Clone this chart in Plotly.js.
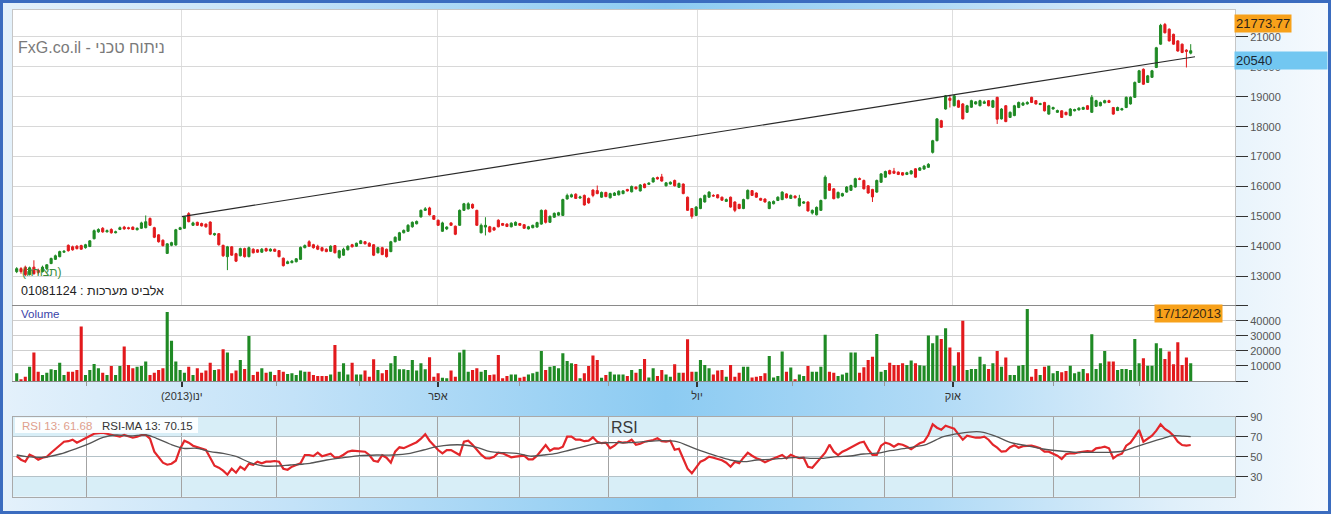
<!DOCTYPE html>
<html><head><meta charset="utf-8">
<script src="https://cdn.plot.ly/plotly-3.0.1.min.js"></script>
<style>
html,body{margin:0;padding:0;background:#fff;}
#wrap{position:relative;width:1331px;height:514px;overflow:hidden;
 background:linear-gradient(to right,#e4f1fb 0%,#c3e2f8 22%,#8ccbf2 50%,#b0daf6 70%,#dfeffa 88%,#f6fafe 100%);}
#chart{position:absolute;left:0;top:0;width:1331px;height:514px;}
#frame{position:absolute;left:0;top:0;width:1331px;height:514px;box-sizing:border-box;border:3px solid #3b6cbf;pointer-events:none;}
</style></head>
<body><div id="wrap"><div id="chart"></div><div id="frame"></div></div>
<script>
// ---- data (Elbit Systems, daily, Nov 2012 - 17/12/2013) ----
const open = [
13150,13250,13300,13050,13300,13200,13150,13250,13420,13560,
13650,13800,14030,13980,14000,14020,13950,13990,14250,14480,
14600,14480,14560,14450,14560,14640,14620,14640,14550,14600,
14620,14930,14620,14380,14200,13760,14030,14040,14560,14600,
15090,14700,14800,14760,14740,14810,14380,14420,14030,13650,
13980,13750,13680,13920,13650,13900,13880,13800,13920,13840,
13900,13850,13600,13420,13450,13480,13560,13950,14150,14050,
14000,13950,13900,13830,14020,13620,13700,13880,14050,14000,
14090,14150,14100,14050,13780,13950,13900,13820,14150,14200,
14450,14500,14650,14750,14980,15200,15280,15020,14870,14500,
14580,14780,14670,14700,15200,15250,15400,15200,14450,14640,
14650,14620,14870,14760,14740,14650,14700,14760,14720,14580,
14620,14640,14740,15200,14800,14970,15040,15030,15580,15650,
15740,15610,15700,15600,15880,15860,15640,15800,15620,15700,
15720,15760,15900,15820,15980,15850,16080,16070,16150,16300,
16320,16020,16080,16200,15970,16080,15640,15260,15030,15260,
15480,15640,15700,15720,15640,15500,15640,15480,15400,15260,
15590,15860,15780,15600,15580,15260,15420,15530,15560,15750,
15600,15680,15350,15440,15480,15110,15050,15200,15590,16090,
15920,15620,15680,15810,15870,15980,16260,16200,16020,15900,
15810,16140,16310,16530,16510,16480,16460,16400,16420,16590,
16540,16580,16640,17140,17530,18200,18590,18950,18700,18870,
18760,18480,18650,18760,18700,18780,18870,18650,18980,18260,
18700,18310,18370,18640,18720,18760,18980,18870,18740,18810,
18420,18590,18480,18530,18480,18370,18530,18560,18580,18700,
18480,18680,18700,18800,18870,18640,18540,18560,18640,18760,
18980,19480,19920,19480,19650,19980,20760,21420,21260,21090,
20870,20760,20560,20460];
const high = [
13300,13300,13350,13320,13530,13250,13350,13400,13620,13720,
13850,13870,14060,14020,14040,14050,14080,14200,14560,14600,
14640,14560,14600,14520,14660,14680,14650,14660,14630,14820,
15030,14960,14650,14400,14230,14100,14150,14580,14650,15000,
15140,14820,14820,14790,14760,14830,14450,14440,14050,14010,
14000,13780,13950,13950,13990,13930,13900,13940,13950,13930,
13920,13870,13620,13520,13540,13600,13990,14060,14200,14080,
14050,13980,13930,14030,14040,13880,13950,14030,14080,14120,
14210,14170,14130,14070,13980,13980,13920,14180,14330,14480,
14560,14740,14830,14860,15230,15310,15320,15040,14890,14820,
14670,14800,14690,15230,15450,15470,15430,15220,14760,14970,
14680,14650,14900,14780,14770,14800,14830,14780,14740,14680,
14720,14820,15230,15230,15030,15130,15150,15590,15760,15760,
15770,15690,15730,15630,15900,16030,15830,15820,15790,15810,
15870,15880,15920,16030,16000,16080,16100,16140,16310,16330,
16420,16150,16170,16230,16130,16100,15660,15280,15340,15620,
15730,15840,15740,15740,15660,15600,15660,15500,15420,15590,
15900,15880,15800,15620,15600,15510,15530,15670,15840,15770,
15730,15700,15720,15510,15500,15230,15330,15560,16370,16110,
15940,15830,15790,16010,16060,16290,16300,16230,16040,15920,
16230,16450,16530,16560,16620,16500,16480,16490,16550,16610,
16650,16720,16780,17560,18290,18230,19060,19060,19060,18900,
18790,18730,18900,18860,18900,18880,18890,18900,19000,18620,
18720,18510,18730,18840,18830,18850,19000,18890,18800,18830,
18730,18670,18570,18550,18500,18620,18600,18650,18670,18720,
19060,18900,18840,18900,18900,18660,18670,18630,19010,19010,
19510,19900,19950,19730,19900,20670,21440,21470,21290,21110,
20890,20780,20590,20760];
const low = [
13100,13080,13000,13020,13050,13060,13120,13200,13400,13540,
13630,13780,13820,13850,13890,13880,13920,13970,14230,14450,
14450,14460,14420,14430,14540,14550,14560,14540,14530,14580,
14600,14680,14270,14120,13990,13740,14000,14020,14540,14580,
14800,14680,14680,14660,14620,14370,14350,14020,13640,13200,
13680,13470,13660,13620,13630,13760,13780,13780,13820,13820,
13810,13630,13320,13400,13430,13460,13540,13930,13980,13920,
13870,13820,13800,13810,13760,13580,13680,13860,13960,13980,
14070,14060,13980,13670,13760,13700,13620,13800,14130,14180,
14430,14480,14620,14730,14960,15180,15030,14880,14680,14480,
14540,14680,14370,14680,15180,15230,15250,14680,14430,14360,
14460,14520,14630,14680,14640,14630,14680,14680,14580,14560,
14600,14620,14720,14760,14780,14950,15020,15010,15560,15630,
15580,15590,15360,15420,15640,15740,15620,15640,15600,15680,
15700,15740,15830,15800,15900,15830,15940,16050,16130,16230,
16160,16000,16060,16000,15950,15740,15180,14920,15010,15240,
15460,15620,15660,15600,15520,15480,15290,15140,15240,15240,
15570,15680,15620,15520,15460,15240,15400,15510,15540,15600,
15580,15600,15330,15420,15160,15060,15030,15180,15570,15850,
15570,15600,15660,15790,15850,15960,16210,15900,15760,15480,
15790,16120,16290,16400,16420,16380,16360,16380,16400,16290,
16520,16560,16620,17100,17510,17960,18570,18640,18680,18630,
18240,18460,18630,18740,18680,18760,18680,18630,18090,18240,
18150,18290,18350,18620,18700,18740,18790,18740,18720,18510,
18400,18570,18460,18290,18380,18350,18510,18540,18560,18560,
18460,18660,18680,18780,18790,18400,18520,18540,18620,18740,
18960,19460,19400,19460,19630,19960,20740,21120,20850,20740,
20510,20460,19980,20420];
const close = [
13250,13150,13050,13280,13080,13120,13300,13380,13590,13680,
13820,13830,13850,13880,13920,13900,14050,14180,14520,14560,
14480,14520,14450,14480,14620,14580,14590,14560,14600,14780,
14820,14700,14300,14150,14020,14080,14120,14550,14620,14980,
14820,14780,14700,14680,14650,14400,14420,14050,13680,13980,
13700,13500,13920,13650,13950,13780,13800,13900,13840,13900,
13830,13650,13350,13480,13500,13580,13960,14020,14000,13950,
13900,13850,13820,14000,13780,13850,13900,14000,13980,14100,
14180,14080,14000,13700,13950,13720,13650,14150,14300,14450,
14530,14700,14800,14830,15200,15250,15050,14900,14700,14780,
14640,14700,14400,15200,15420,15420,15280,14700,14700,14700,
14480,14540,14650,14700,14660,14770,14800,14700,14600,14650,
14700,14790,15200,14800,15000,15100,15120,15560,15700,15720,
15600,15650,15380,15450,15700,15760,15800,15660,15760,15780,
15840,15850,15850,16000,15920,16050,15960,16110,16280,16250,
16180,16120,16140,16020,16100,15760,15200,15000,15310,15590,
15700,15810,15680,15620,15540,15560,15310,15200,15260,15560,
15870,15700,15640,15540,15480,15480,15500,15640,15810,15620,
15700,15620,15600,15480,15180,15200,15300,15530,16310,15870,
15590,15800,15760,15980,16030,16260,16240,15920,15780,15650,
16200,16420,16500,16420,16440,16400,16380,16460,16520,16310,
16620,16680,16740,17530,18260,17980,19030,18880,19030,18650,
18260,18700,18870,18830,18870,18830,18700,18870,18250,18590,
18170,18480,18700,18810,18790,18810,18810,18760,18770,18530,
18700,18640,18540,18310,18400,18590,18570,18620,18640,18580,
18980,18870,18810,18870,18810,18420,18640,18600,18980,18980,
19480,19870,19420,19700,19870,20640,21390,21140,20870,20760,
20530,20480,20520,20540];
const volume = [
5100,1100,2900,9550,18900,6200,4000,5500,7800,7300,
12200,4000,6200,6200,7300,36200,4000,7300,11300,8400,
5500,4000,10000,4000,10000,22900,10700,8400,9550,10000,
12900,4000,5500,7300,8400,45800,26700,12900,7300,5500,
9550,4000,8400,5500,6900,12200,7300,7800,21100,18900,
5100,6900,14000,8000,30000,4000,6200,8400,5500,6200,
4000,7300,6200,4700,5100,4000,6900,6200,6200,4000,
3300,3300,3300,4400,24000,6200,11800,4400,12200,4400,
4400,6900,2900,14400,7300,5100,7300,11800,16700,7800,
7800,7300,14000,6900,11800,7800,15800,2900,5100,2200,
1800,6900,2900,18900,20700,6200,7300,8400,6200,7300,
4000,4400,17300,1800,3300,4400,4400,2200,2900,4400,
5100,6200,20000,7300,9550,10000,8400,18400,13300,11800,
11300,1800,5100,10000,16900,14000,2200,4000,6200,4400,
4400,4400,3300,7300,5500,8000,14700,2400,8400,3300,
7300,4400,2900,11100,5500,5500,27800,6200,6200,14000,
10700,8400,4400,6900,7300,2900,10700,2900,5500,9550,
9550,2400,2900,3300,5100,16700,2400,3300,19600,6200,
8900,1100,4400,3300,10000,6200,6200,9550,30700,6200,
5500,3300,4400,5500,18900,18900,5500,9100,14000,16200,
31300,6200,7300,12200,10700,10700,11800,10700,13600,11800,
10500,10200,30200,25100,30200,28000,35100,22200,10200,19100,
40000,7300,8000,8000,16200,11100,8000,11800,20000,9550,
15600,4000,4000,10200,10700,47800,2900,8000,4000,9550,
10200,5100,6700,5800,6700,10200,5100,6200,8000,5100,
31100,8000,11800,20000,12900,12900,7300,8000,8000,7300,
28000,11800,15100,10200,10200,25100,21800,14700,19600,11100,
25800,10700,15600,11800];
const rsi = [
50.5,47,45,52,50,47,49,50,54,58,
61.7,65,65.5,67,64,66,68,70.7,73,73.5,
74,73,72,71,70,71.7,70,69,70,71.7,
71.7,68,55,50,44,42,43,46,58,66,
64,61,59.5,58,56.7,49,41,39,36,32,
38,34,40,37,43,42,45,43.4,45,45,
45.7,45,38,37,40,41.7,43.4,51.7,51.7,50.7,
54,50.5,51.7,53,49,49.5,52,55,56,55.5,
55,55,51.7,46,45,51.5,49,44,55,59.4,
58.5,60.5,63,64.5,68,72.5,66,61,56.7,53.4,
56.5,56.7,54,51.7,65,66,62,57,52,48.5,
48.4,50,54,53.4,51,49.4,50,50.5,51,47.4,
47.4,51,56,61.7,56,58.4,58,60,70,70,
67,67,65.5,66,69.4,65,63.5,64,58.4,61,
65,64,64.5,67,62,63,65,65.5,66.7,68.4,
65.5,65,66,57,58,48,38,33.4,39.5,45,
47,50,49,47.5,46.5,44,40,45,43.4,49,
54,51,48.5,47,44.5,46.5,48.4,50,51.7,48.4,
52,50,48.5,49,40,39,44,49,54,62,
55,51.5,55,57,59.5,62,64,65,57.4,51.7,
51.7,61,64,62.7,60,62.7,62,60,57.4,60.5,
63.4,65,71.7,82.4,79,77,81,79.5,78,72.4,
67,71,70,69,69,70,67,62,59,55,
55.5,59.5,61.5,59,60.5,61,61,60,58.4,55,
55,53,51,47.7,52.4,53.4,53.4,54.4,55,55.7,
55,58.4,59,60,58.4,48.4,51.5,53,61,64,
70,76.7,65,67.7,71,76,82.4,77.7,75,71,
65,61.7,61,61.68];
// RSI moving average, read at these bar positions
const maBar = [
0,2.3,6.2,10.1,14.0,17.0,20.1,23.2,26.3,30.2,
32.5,35.6,38.8,41.9,45.0,48.0,51.2,54.3,57.4,60.5,
63.6,66.7,68.2,72.1,76.0,79.8,83.7,87.6,91.5,94.6,
97.7,100.8,103.9,107.0,110.1,113.2,116.3,119.4,122.5,125.6,
128.7,131.8,134.9,138.0,141.9,145.8,149.6,153.5,156.6,159.7,
162.8,165.9,169.0,172.1,175.2,178.3,181.4,184.5,187.6,190.7,
193.8,196.9,200.0,203.1,206.2,209.0,211.6,215.5,219.3,223.2,
224.8,227.9,231.0,234.8,238.7,242.6,246.5,250.3,254.2,257.3,
260.4,263.5,266.6,268.9,271.3,273];
const maVal = [
51.7,50,49.4,52.7,58.4,63.4,69.4,71.7,70.7,71.7,
68.4,62.7,58.4,58.4,55,53.4,50,44,40.7,40.7,
41.7,42.7,43.4,46.7,49,51,51.7,51.7,53.4,56.7,
60,61.7,61.7,59.4,55,54,53.4,50.5,51.7,53.4,
56.7,60,63.4,64,64,65,66,65,60,55,
50.7,46.7,45,46.7,47.4,48.4,49.4,48.4,48.4,50,
50.7,52.7,53.5,56,58,60,62.4,70,73.4,75,
74.4,70,64.4,61,57.7,55.7,54.4,54.4,54.4,55.7,
60,64.4,68.4,71,70.5,70.15];
// trend line drawn on the chart (bar position, price)
const trendX = [38.4, 274.0];
const trendY = [14990, 20340];
// month starts (bar positions) and quarter labels
const monthPos = [16.3,38.4,60.5,79.8,97.95,117.0,137.5,158.2,180.5,201.7,217.7,241.0,261.0];
const quarterPos = [38.4,97.95,158.2,217.7];
const quarterLabels = ['(2013)ינו','אפר','יול','אוק'];
const priceTicks = [13000,14000,15000,16000,17000,18000,19000,20000,21000];
const priceTickText = ['13000','14000','15000','16000','17000','18000','19000','20000','21000'];
const volTicks = [0,10000,20000,30000,40000,50000];
const volTickText = ['','10000','20000','30000','40000',''];
const rsiTicks = [30,50,70,90];
const highLabel = 21773.77, lastLabel = 20540, lastDate = '17/12/2013';
const rsiLast = 61.68, maLast = 70.15;

// ---- drawing ----
const GREEN = '#1f8a24', RED = '#e2191c';
const idx = close.map((_, i) => i);
const volColors = close.map((c, i) => c >= open[i] ? GREEN : RED);
const W = 1331, H = 514;
const px = x => x / W, py = y => 1 - y / H;
const xDom = [px(13), px(1235)];
const xRange = [-0.86, 283.3];
const tickFont = {size: 11, color: '#555'};

const traces = [
  {type:'candlestick', x: idx, open, high, low, close, xaxis:'x', yaxis:'y',
   increasing:{line:{color:GREEN,width:1}, fillcolor:GREEN},
   decreasing:{line:{color:RED,width:1}, fillcolor:RED},
   whiskerwidth:0, hoverinfo:'skip'},
  {type:'scatter', mode:'lines', x: trendX, y: trendY, xaxis:'x', yaxis:'y',
   line:{color:'#2a2a2a', width:1.2}, hoverinfo:'skip'},
  {type:'bar', x: idx, y: volume, xaxis:'x2', yaxis:'y2', width:0.72,
   marker:{color: volColors, line:{width:0}}, hoverinfo:'skip'},
  {type:'scatter', mode:'lines', x: idx, y: rsi, xaxis:'x3', yaxis:'y3',
   line:{color:'#e3262a', width:2.2}, hoverinfo:'skip'},
  {type:'scatter', mode:'lines', x: maBar, y: maVal, xaxis:'x3', yaxis:'y3',
   line:{color:'#555555', width:1.3, shape:'spline'}, hoverinfo:'skip'}
];

const layout = {
  width: W, height: H, margin:{l:0,r:0,t:0,b:0},
  paper_bgcolor:'rgba(0,0,0,0)', plot_bgcolor:'#ffffff',
  showlegend:false, hovermode:false,
  font:{family:'"Liberation Sans", Arial, sans-serif', size:11, color:'#444'},
  xaxis:{domain:xDom, range:xRange, anchor:'y', tickmode:'array', tickvals:quarterPos,
    showticklabels:false, ticks:'', showgrid:true, gridcolor:'#dedede', gridwidth:1,
    zeroline:false, showline:true, mirror:true, linecolor:'#c6c6c6',
    rangeslider:{visible:false}, fixedrange:true},
  yaxis:{domain:[py(306), py(10)], range:[12000, 21903], side:'right', tickmode:'array',
    tickvals:priceTicks, ticktext:priceTickText, ticks:'outside', ticklen:12, tickcolor:'#333', tickwidth:1,
    tickfont:tickFont, showgrid:true, gridcolor:'#d8d8d8', zeroline:false,
    showline:true, mirror:true, linecolor:'#c6c6c6', fixedrange:true},
  xaxis2:{domain:xDom, range:xRange, anchor:'y2', tickmode:'array', tickvals:quarterPos,
    ticktext:quarterLabels, ticks:'outside', ticklen:5, tickwidth:2, tickcolor:'#333',
    tickfont:{size:11, color:'#333'},
    minor:{tickmode:'array', tickvals:monthPos, ticks:'outside', ticklen:4, tickcolor:'#999', tickwidth:1, showgrid:false},
    showgrid:false, zeroline:false, showline:true, mirror:true, linecolor:'#8a8a8a', fixedrange:true},
  yaxis2:{domain:[py(381), py(305.8)], range:[0, 50000], side:'right', tickmode:'array',
    tickvals:volTicks, ticktext:volTickText, ticks:'outside', ticklen:12, tickcolor:'#333',
    tickfont:tickFont, showgrid:true, gridcolor:'#cfcfcf', zeroline:false,
    showline:true, mirror:true, linecolor:'#c6c6c6', fixedrange:true},
  xaxis3:{domain:xDom, range:xRange, anchor:'y3', tickmode:'array', tickvals:monthPos,
    showticklabels:false, ticks:'', showgrid:true, gridcolor:'#a3a3a3', gridwidth:1,
    zeroline:false, showline:true, mirror:true, linecolor:'#a9a9a9', fixedrange:true},
  yaxis3:{domain:[py(496.7), py(416.7)], range:[10, 90], side:'right', tickmode:'array',
    tickvals:rsiTicks, ticks:'outside', ticklen:12, tickcolor:'#333', tickfont:tickFont,
    showgrid:true, gridcolor:'#b4c2c8', zeroline:false, showline:true, mirror:true,
    linecolor:'#a9a9a9', fixedrange:true},
  shapes:[
    {type:'rect', xref:'x3 domain', yref:'y3', x0:0, x1:1, y0:70, y1:90, fillcolor:'#d8eef7', line:{width:0}, layer:'below'},
    {type:'rect', xref:'x3 domain', yref:'y3', x0:0, x1:1, y0:10, y1:30, fillcolor:'#d8eef7', line:{width:0}, layer:'below'},
    {type:'rect', xref:'paper', yref:'paper', x0:px(15), x1:px(198), y0:py(433), y1:py(417.5),
     fillcolor:'rgba(255,255,255,0.9)', line:{width:0}, layer:'above'}
  ],
  annotations:[
    {xref:'paper', yref:'paper', x:px(16), y:py(47.5), xanchor:'left', yanchor:'middle', showarrow:false,
     text:'FxG.co.il - ניתוח טכני', font:{size:16, color:'#7a7a7a'}},
    {xref:'paper', yref:'paper', x:px(20), y:py(272), xanchor:'left', yanchor:'middle', showarrow:false,
     text:'(תצורה)', font:{size:12, color:'#3d8f3d'}},
    {xref:'paper', yref:'paper', x:px(19), y:py(290.5), xanchor:'left', yanchor:'middle', showarrow:false,
     text:'01081124 : אלביט מערכות', font:{size:12.5, color:'#222'}},
    {xref:'paper', yref:'paper', x:px(19), y:py(313.5), xanchor:'left', yanchor:'middle', showarrow:false,
     text:'Volume', font:{size:11.5, color:'#3a3fa8'}},
    {xref:'paper', yref:'paper', x:px(1223), y:py(304), xanchor:'right', yanchor:'top', showarrow:false,
     text:lastDate, bgcolor:'#f7a11a', borderpad:1, font:{size:13, color:'#3a2a12'}},
    {xref:'paper', yref:'y', x:px(1234), y:highLabel, xanchor:'left', yanchor:'top', showarrow:false,
     text:String(highLabel), bgcolor:'#f7a11a', borderpad:1, font:{size:13, color:'#2b2218'}},
    {xref:'paper', yref:'y', x:px(1234), y:lastLabel, xanchor:'left', yanchor:'top', showarrow:false,
     text:String(lastLabel), bgcolor:'#72c7f1', borderpad:1, width:90, align:'left', font:{size:13, color:'#1b2833'}},
    {xref:'paper', yref:'paper', x:px(624), y:py(427), xanchor:'center', yanchor:'middle', showarrow:false,
     text:'RSI', font:{size:16, color:'#3a3a3a'}},
    {xref:'paper', yref:'paper', x:px(20), y:py(425.5), xanchor:'left', yanchor:'middle', showarrow:false,
     text:'RSI 13: ' + rsiLast, font:{size:11.5, color:'#e0a08c'}},
    {xref:'paper', yref:'paper', x:px(100), y:py(425.5), xanchor:'left', yanchor:'middle', showarrow:false,
     text:'RSI-MA 13: ' + maLast, font:{size:11.5, color:'#333'}}
  ]
};

Plotly.newPlot('chart', traces, layout, {staticPlot:true, displayModeBar:false});
</script></body></html>
